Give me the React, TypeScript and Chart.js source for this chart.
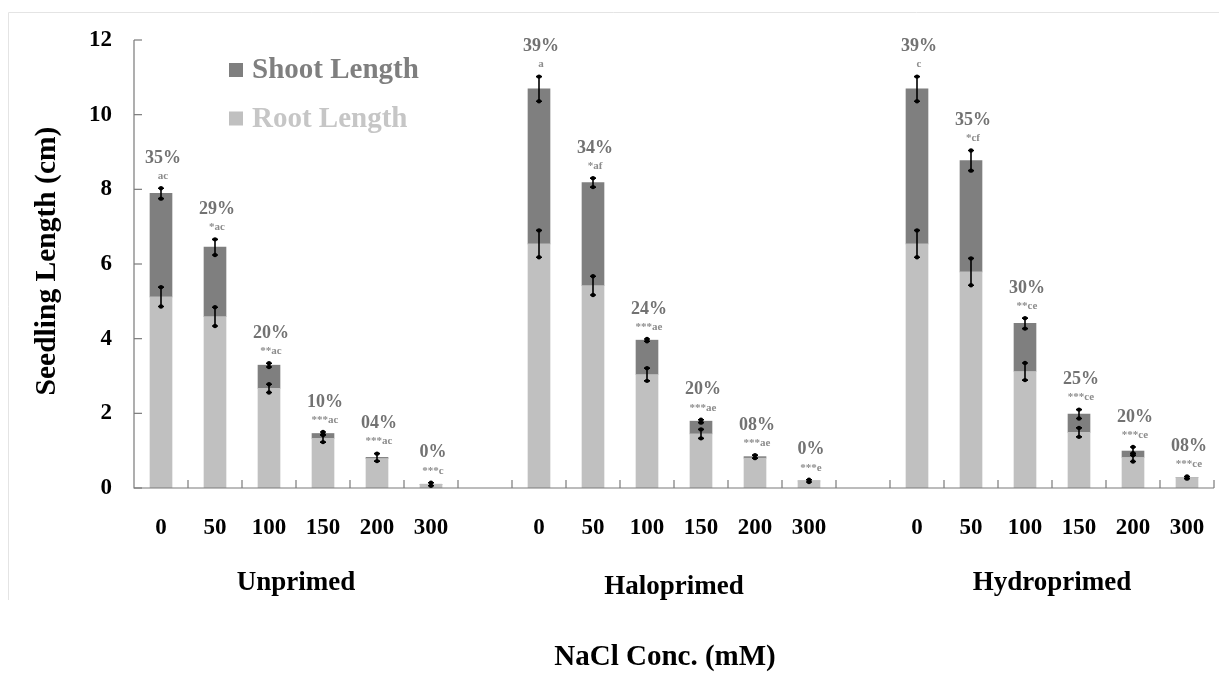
import React, { useEffect, useRef } from 'react';
import { Chart, registerables } from 'chart.js';

Chart.register(...registerables);

const groups = ['Unprimed', 'Haloprimed', 'Hydroprimed'];
const concentrations = ['0', '50', '100', '150', '200', '300'];

const rootLength = [
  [5.12, 4.59, 2.67, 1.33, 0.79, 0.1],
  [6.54, 5.42, 3.04, 1.45, 0.8, 0.19],
  [6.54, 5.79, 3.12, 1.49, 0.82, 0.28],
];
const shootLength = [
  [2.77, 1.86, 0.62, 0.13, 0.03, 0],
  [4.15, 2.76, 0.92, 0.34, 0.04, 0],
  [4.15, 2.98, 1.29, 0.49, 0.17, 0],
];
const shootError = [
  [0.14, 0.21, 0.05, 0.04, 0.1, 0.04],
  [0.33, 0.12, 0.03, 0.04, 0.04, 0.03],
  [0.33, 0.27, 0.14, 0.12, 0.11, 0.03],
];
const rootError = [
  [0.26, 0.25, 0.11, 0.1, 0, 0],
  [0.36, 0.25, 0.17, 0.12, 0, 0],
  [0.36, 0.36, 0.23, 0.12, 0.11, 0],
];
const percentLabels = [
  ['35%', '29%', '20%', '10%', '04%', '0%'],
  ['39%', '34%', '24%', '20%', '08%', '0%'],
  ['39%', '35%', '30%', '25%', '20%', '08%'],
];
const letterLabels = [
  ['ac', '*ac', '**ac', '***ac', '***ac', '***c'],
  ['a', '*af', '***ae', '***ae', '***ae', '***e'],
  ['c', '*cf', '**ce', '***ce', '***ce', '***ce'],
];
const yTicks = [0, 2, 4, 6, 8, 10, 12];

const SERIF = '"Liberation Serif", "Times New Roman", serif';
const SHOOT_COLOR = '#7f7f7f';
const ROOT_COLOR = '#c0c0c0';

// Build flat category table with an empty slot between groups
const labels: string[] = [];
const rootData: (number | null)[] = [];
const shootData: (number | null)[] = [];
const meta: ({ g: number; i: number } | null)[] = [];
groups.forEach((_, g) => {
  concentrations.forEach((c, i) => {
    labels.push(c);
    rootData.push(rootLength[g][i]);
    shootData.push(shootLength[g][i]);
    meta.push({ g, i });
  });
  if (g < groups.length - 1) {
    labels.push('');
    rootData.push(null);
    shootData.push(null);
    meta.push(null);
  }
});

const decorPlugin = {
  id: 'decor',
  afterDatasetsDraw(chart: any) {
    const { ctx, chartArea, scales } = chart;
    const xs = scales.x;
    const ys = scales.y;
    ctx.save();

    // faint frame
    ctx.strokeStyle = '#e4e4e4';
    ctx.lineWidth = 1;
    ctx.beginPath();
    ctx.moveTo(8.5, 600);
    ctx.lineTo(8.5, 12.5);
    ctx.lineTo(1219, 12.5);
    ctx.stroke();

    // axes
    ctx.strokeStyle = '#7a7a7a';
    ctx.lineWidth = 1.2;
    ctx.beginPath();
    ctx.moveTo(chartArea.left, ys.getPixelForValue(12));
    ctx.lineTo(chartArea.left, chartArea.bottom);
    ctx.lineTo(chartArea.right, chartArea.bottom);
    ctx.stroke();
    // y ticks (inside)
    yTicks.forEach((v) => {
      const y = ys.getPixelForValue(v);
      ctx.beginPath();
      ctx.moveTo(chartArea.left, y);
      ctx.lineTo(chartArea.left + 8, y);
      ctx.stroke();
    });
    // x ticks (inside) at category boundaries
    const step = xs.getPixelForValue(1) - xs.getPixelForValue(0);
    for (let k = 0; k < labels.length; k++) {
      const x = xs.getPixelForValue(k) + step / 2;
      ctx.beginPath();
      ctx.moveTo(x, chartArea.bottom);
      ctx.lineTo(x, chartArea.bottom - 8);
      ctx.stroke();
    }

    // error bars and labels
    meta.forEach((m, idx) => {
      if (!m) return;
      const { g, i } = m;
      const x = xs.getPixelForValue(idx);
      const root = rootLength[g][i];
      const total = root + shootLength[g][i];
      const drawErr = (center: number, err: number) => {
        if (err <= 0) return;
        const y1 = ys.getPixelForValue(center + err);
        const y2 = ys.getPixelForValue(center - err);
        ctx.strokeStyle = '#000';
        ctx.fillStyle = '#000';
        ctx.lineWidth = 1.6;
        ctx.beginPath();
        ctx.moveTo(x, y1);
        ctx.lineTo(x, y2);
        ctx.moveTo(x - 3, y1);
        ctx.lineTo(x + 3, y1);
        ctx.moveTo(x - 3, y2);
        ctx.lineTo(x + 3, y2);
        ctx.stroke();
        [y1, y2].forEach((yy) => {
          ctx.beginPath();
          ctx.arc(x, yy, 2.2, 0, Math.PI * 2);
          ctx.fill();
        });
      };
      drawErr(root, rootError[g][i]);
      drawErr(total, shootError[g][i]);

      const errTop = ys.getPixelForValue(total + shootError[g][i]);
      ctx.textAlign = 'center';
      ctx.textBaseline = 'middle';
      ctx.fillStyle = '#8c8c8c';
      ctx.font = `bold 11px ${SERIF}`;
      ctx.fillText(letterLabels[g][i], x + 2, errTop - 12);
      ctx.fillStyle = '#727272';
      ctx.font = `bold 18px ${SERIF}`;
      ctx.fillText(percentLabels[g][i], x + 2, errTop - 30);
    });

    // group labels
    ctx.fillStyle = '#000';
    ctx.textAlign = 'center';
    ctx.textBaseline = 'alphabetic';
    ctx.font = `bold 27px ${SERIF}`;
    groups.forEach((name, g) => {
      const first = g * (concentrations.length + 1);
      const last = first + concentrations.length - 1;
      const cx = (xs.getPixelForValue(first) + xs.getPixelForValue(last)) / 2;
      ctx.fillText(name, cx, g === 1 ? 594 : 590);
    });

    // x title
    ctx.font = `bold 29px ${SERIF}`;
    ctx.fillText('NaCl Conc. (mM)', 665, 665);

    // y title
    ctx.save();
    ctx.translate(47, 261);
    ctx.rotate(-Math.PI / 2);
    ctx.textBaseline = 'middle';
    ctx.font = `bold 29.5px ${SERIF}`;
    ctx.fillText('Seedling Length (cm)', 0, 0);
    ctx.restore();

    // legend
    const legend = [
      { text: 'Shoot Length', color: SHOOT_COLOR, textColor: '#7f7f7f', y: 70 },
      { text: 'Root Length', color: ROOT_COLOR, textColor: '#c6c6c6', y: 118.5 },
    ];
    ctx.textAlign = 'left';
    ctx.textBaseline = 'middle';
    ctx.font = `bold 29px ${SERIF}`;
    legend.forEach((l) => {
      ctx.fillStyle = l.color;
      ctx.fillRect(229, l.y - 7, 14, 14);
      ctx.fillStyle = l.textColor;
      ctx.fillText(l.text, 252, l.y + 1);
    });

    ctx.restore();
  },
};

export default function App() {
  const ref = useRef<HTMLCanvasElement | null>(null);
  useEffect(() => {
    if (!ref.current) return;
    const chart = new Chart(ref.current, {
      type: 'bar',
      data: {
        labels,
        datasets: [
          {
            label: 'Root Length',
            data: rootData,
            backgroundColor: ROOT_COLOR,
            stack: 's',
            barThickness: 22,
          },
          {
            label: 'Shoot Length',
            data: shootData,
            backgroundColor: SHOOT_COLOR,
            stack: 's',
            barThickness: 22,
          },
        ],
      },
      options: {
        responsive: false,
        animation: false,
        layout: { padding: { top: 40, right: 5, bottom: 125, left: 0 } },
        plugins: {
          legend: { display: false },
          tooltip: { enabled: false },
        },
        scales: {
          x: {
            stacked: true,
            grid: { display: false, drawTicks: false },
            border: { display: false },
            ticks: {
              autoSkip: false,
              maxRotation: 0,
              padding: 26,
              color: '#000',
              font: { family: SERIF, size: 23, weight: 'bold' },
            },
            afterFit: (s: any) => {
              s.height = 60;
              s.paddingLeft = 0;
              s.paddingRight = 0;
            },
          },
          y: {
            stacked: true,
            min: 0,
            max: 12,
            grid: { display: false, drawTicks: false },
            border: { display: false },
            ticks: {
              stepSize: 2,
              padding: 22,
              color: '#000',
              font: { family: SERIF, size: 23, weight: 'bold' },
            },
            afterFit: (s: any) => {
              s.width = 134;
              s.paddingTop = 0;
              s.paddingBottom = 0;
            },
          },
        },
      },
      plugins: [decorPlugin],
    });
    return () => chart.destroy();
  }, []);
  return (
    <div style={{ position: 'fixed', left: 0, top: 0, width: 1219, height: 673, background: '#fff' }}>
      <canvas ref={ref} width={1219} height={673} />
    </div>
  );
}
